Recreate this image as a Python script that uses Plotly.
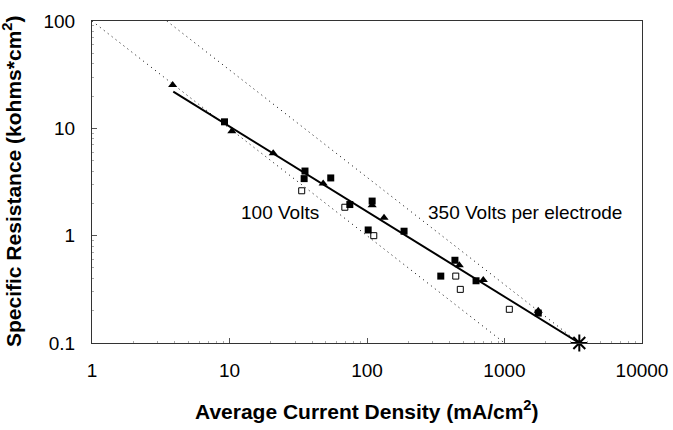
import plotly.graph_objects as go

# Data
filled_sq_x = [9.2, 35.4, 34.9, 54.5, 75, 109, 102, 186, 344, 436, 621, 1760]
filled_sq_y = [11.5, 4.0, 3.4, 3.45, 1.95, 2.1, 1.13, 1.10, 0.42, 0.59, 0.38, 0.19]

tri_x = [3.86, 10.4, 20.8, 48, 109, 133, 469, 701, 1760]
tri_y = [25.3, 9.4, 5.85, 3.07, 1.92, 1.47, 0.53, 0.386, 0.20]

open_sq_x = [33.5, 69, 112, 442, 477, 1084]
open_sq_y = [2.62, 1.84, 1.0, 0.42, 0.316, 0.206]

fit_x = [3.9, 3500]
fit_y = [22, 0.1]

v100_x = [1, 1000]
v100_y = [100, 0.1]
v350_x = [3.5, 3500]
v350_y = [100, 0.1]

star_x = [3500]
star_y = [0.1]

x_ticks = [1, 10, 100, 1000, 10000]
x_tick_labels = ["1", "10", "100", "1000", "10000"]
y_ticks = [0.1, 1, 10, 100]
y_tick_labels = ["0.1", "1", "10", "100"]

x_minor = [m * 10 ** d for d in range(0, 4) for m in range(2, 10)]
y_minor = [m * 10 ** d for d in range(-1, 2) for m in range(2, 10)]

FONT = "Liberation Sans, Arial, sans-serif"
DOTS = "1px,4px"

fig = go.Figure()
fig.add_trace(go.Scatter(x=v100_x, y=v100_y, mode="lines",
                         line=dict(color="black", width=1, dash=DOTS), showlegend=False))
fig.add_trace(go.Scatter(x=v350_x, y=v350_y, mode="lines",
                         line=dict(color="black", width=1, dash=DOTS), showlegend=False))
fig.add_trace(go.Scatter(x=fit_x, y=fit_y, mode="lines",
                         line=dict(color="black", width=2), showlegend=False))
fig.add_trace(go.Scatter(x=filled_sq_x, y=filled_sq_y, mode="markers",
                         marker=dict(symbol="square", size=7, color="black"), showlegend=False))
fig.add_trace(go.Scatter(x=tri_x, y=tri_y, mode="markers",
                         marker=dict(symbol="triangle-up", size=8, color="black"), showlegend=False))
fig.add_trace(go.Scatter(x=open_sq_x, y=open_sq_y, mode="markers",
                         marker=dict(symbol="square-open", size=6, color="black",
                                     line=dict(width=1)), showlegend=False))
fig.add_trace(go.Scatter(x=star_x, y=star_y, mode="markers", cliponaxis=False,
                         marker=dict(symbol="asterisk-open", size=14, color="black",
                                     line=dict(width=2, color="black")), showlegend=False))

fig.update_xaxes(type="log", range=[0, 4], tickvals=x_ticks, ticktext=x_tick_labels,
                 showgrid=False, zeroline=False, showline=True, linecolor="#333", linewidth=1,
                 mirror=True, ticks="inside", ticklen=5, tickcolor="#555", automargin=False,
                 minor=dict(tickvals=x_minor, ticks="inside", ticklen=2, tickcolor="#aaa",
                            showgrid=False),
                 tickfont=dict(family=FONT, size=19, color="black"), ticklabelstandoff=10)
fig.update_yaxes(type="log", range=[-1, 2], tickvals=y_ticks, ticktext=y_tick_labels,
                 showgrid=False, zeroline=False, showline=True, linecolor="#333", linewidth=1,
                 mirror=True, ticks="inside", ticklen=5, tickcolor="#555", automargin=False,
                 minor=dict(tickvals=y_minor, ticks="inside", ticklen=2, tickcolor="#aaa",
                            showgrid=False),
                 tickfont=dict(family=FONT, size=19, color="black"), ticklabelstandoff=12)

fig.add_annotation(x=1.367, y=0.212, xref="x", yref="y", text="100 Volts", showarrow=False,
                   font=dict(family=FONT, size=19, color="black"), xanchor="center", yanchor="middle")
fig.add_annotation(x=3.149, y=0.218, xref="x", yref="y", text="350 Volts per electrode",
                   showarrow=False, font=dict(family=FONT, size=19, color="black"),
                   xanchor="center", yanchor="middle")
fig.add_annotation(x=(366.5 - 92) / 550, y=(343 - 410) / 322, xref="paper", yref="paper",
                   text="<b>Average Current Density (mA/cm<sup>2</sup>)</b>", showarrow=False,
                   font=dict(family=FONT, size=21, color="black"), xanchor="center", yanchor="middle")
fig.add_annotation(x=(12 - 92) / 550, y=0.5, xref="paper", yref="paper", textangle=-90,
                   text="<b>Specific Resistance (kohms*cm<sup>2</sup>)</b>", showarrow=False,
                   font=dict(family=FONT, size=21, color="black"), xanchor="center", yanchor="middle")

fig.update_layout(width=673, height=430, margin=dict(l=92, r=31, t=21, b=87),
                  plot_bgcolor="white", paper_bgcolor="white")
fig.write_html("out.html", config={"displayModeBar": False},
               post_script="document.body.style.margin='0';document.body.style.overflow='hidden';")
